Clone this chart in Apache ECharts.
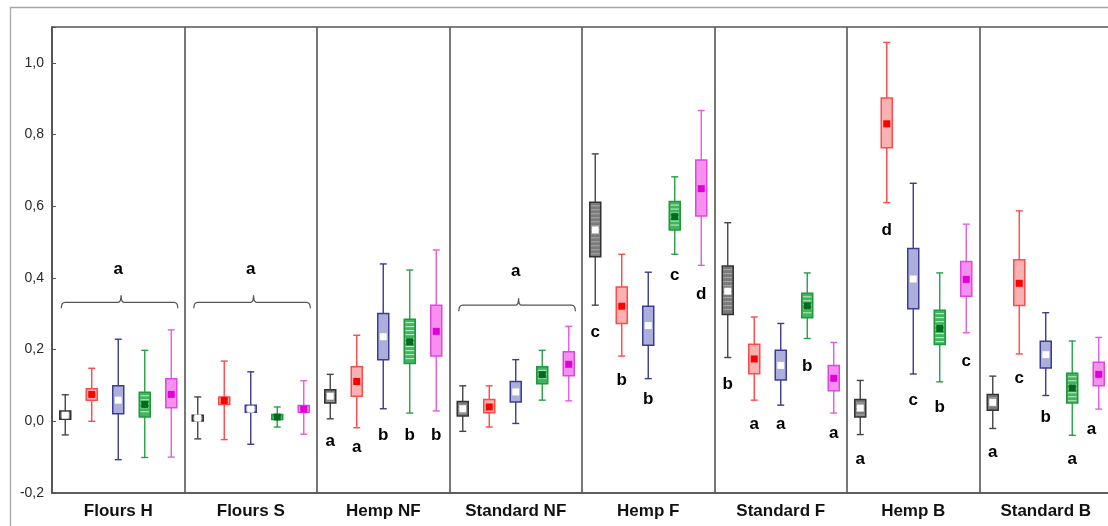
<!DOCTYPE html>
<html>
<head>
<meta charset="utf-8">
<script src="https://cdn.jsdelivr.net/npm/echarts@6/dist/echarts.min.js"></script>
<style>
  html, body { margin: 0; padding: 0; background: #fff; }
  #chart { width: 1108px; height: 526px; }
</style>
</head>
<body>
<div id="chart"></div>
<script>
// ---- data -------------------------------------------------------------
const groupNames = ['Flours H', 'Flours S', 'Hemp NF', 'Standard NF', 'Hemp F', 'Standard F', 'Hemp B', 'Standard B'];
const yTicks = [-0.2, 0.0, 0.2, 0.4, 0.6, 0.8, 1.0];

// each entry: [lower whisker, Q1, centre mark, Q3, upper whisker]
const blackBoxes = [
  [-0.038, 0.006, 0.017, 0.029, 0.074],
  [-0.049, 0.001, 0.009, 0.017, 0.068],
  [0.007, 0.051, 0.070, 0.088, 0.131],
  [-0.028, 0.015, 0.035, 0.055, 0.099],
  [0.324, 0.459, 0.534, 0.611, 0.746],
  [0.178, 0.298, 0.363, 0.433, 0.554],
  [-0.037, 0.012, 0.037, 0.061, 0.114],
  [-0.020, 0.031, 0.053, 0.075, 0.126]
];
const redBoxes = [
  [0.000, 0.059, 0.075, 0.091, 0.148],
  [-0.051, 0.047, 0.058, 0.068, 0.168],
  [-0.018, 0.070, 0.111, 0.152, 0.240],
  [-0.016, 0.024, 0.040, 0.061, 0.099],
  [0.182, 0.273, 0.321, 0.375, 0.466],
  [0.059, 0.133, 0.174, 0.215, 0.291],
  [0.610, 0.763, 0.830, 0.902, 1.057],
  [0.188, 0.323, 0.385, 0.451, 0.587]
];
const blueBoxes = [
  [-0.107, 0.021, 0.059, 0.099, 0.229],
  [-0.064, 0.025, 0.034, 0.045, 0.138],
  [0.035, 0.172, 0.236, 0.301, 0.439],
  [-0.006, 0.054, 0.082, 0.111, 0.172],
  [0.119, 0.212, 0.267, 0.321, 0.416],
  [0.045, 0.115, 0.156, 0.198, 0.273],
  [0.132, 0.314, 0.397, 0.482, 0.664],
  [0.072, 0.149, 0.186, 0.223, 0.303]
];
const greenBoxes = [
  [-0.101, 0.012, 0.047, 0.081, 0.198],
  [-0.016, 0.005, 0.012, 0.019, 0.040],
  [0.023, 0.161, 0.222, 0.285, 0.422],
  [0.059, 0.105, 0.130, 0.152, 0.198],
  [0.466, 0.534, 0.571, 0.613, 0.682],
  [0.231, 0.289, 0.322, 0.357, 0.414],
  [0.110, 0.214, 0.259, 0.310, 0.414],
  [-0.039, 0.051, 0.093, 0.134, 0.224]
];
const magentaBoxes = [
  [-0.100, 0.038, 0.075, 0.119, 0.255],
  [-0.036, 0.025, 0.034, 0.044, 0.113],
  [0.029, 0.182, 0.251, 0.324, 0.478],
  [0.057, 0.127, 0.159, 0.194, 0.265],
  [0.435, 0.573, 0.649, 0.729, 0.867],
  [0.023, 0.085, 0.120, 0.156, 0.220],
  [0.247, 0.349, 0.396, 0.446, 0.550],
  [0.034, 0.099, 0.131, 0.165, 0.234]
];

// significance letters per box and the y value they sit at
const blackLetters   = ['', '', 'a', '', 'c', 'b', 'a', 'a'];
const blackLetterY   = [null, null, -0.055, null, 0.249, 0.103, -0.105, -0.087];
const redLetters     = ['', '', 'a', '', 'b', 'a', 'd', 'c'];
const redLetterY     = [null, null, -0.072, null, 0.115, -0.009, 0.532, 0.119];
const blueLetters    = ['', '', 'b', '', 'b', 'a', 'c', 'b'];
const blueLetterY    = [null, null, -0.040, null, 0.061, -0.009, 0.059, 0.012];
const greenLetters   = ['', '', 'b', '', 'c', 'b', 'b', 'a'];
const greenLetterY   = [null, null, -0.040, null, 0.408, 0.154, 0.040, -0.107];
const magentaLetters = ['', '', 'b', '', 'd', 'a', 'c', 'a'];
const magentaLetterY = [null, null, -0.040, null, 0.355, -0.034, 0.166, -0.023];

// groups sharing one letter under a brace
const braceGroups = [0, 1, 3];
const braceLetters = ['a', 'a', 'a'];
const braceLevel = [0.332, 0.332, 0.324];
const braceLetterY = [0.425, 0.425, 0.419];

// ---- appearance -------------------------------------------------------
const PER_GROUP = 5;
const boxStyles = [
  { line: '#454545', edge: '#333333', fill: '#7b7b7b', stripe: '#a9a9a9', mark: '#ffffff', markEdge: null },
  { line: '#ff4848', edge: '#ff4a4a', fill: '#f8b2b2', stripe: null, mark: '#ff0000', markEdge: null },
  { line: '#3a3a92', edge: '#3c3c94', fill: '#acaedb', stripe: null, mark: '#ffffff', markEdge: null },
  { line: '#28a045', edge: '#1e9a3c', fill: '#41b55c', stripe: '#c6ead0', mark: '#006b1c', markEdge: null },
  { line: '#e45ae4', edge: '#e046e0', fill: '#f590ef', stripe: null, mark: '#e000d8', markEdge: null }
];
const allBoxes = [blackBoxes, redBoxes, blueBoxes, greenBoxes, magentaBoxes];
const allLetters = [blackLetters, redLetters, blueLetters, greenLetters, magentaLetters];
const allLetterY = [blackLetterY, redLetterY, blueLetterY, greenLetterY, magentaLetterY];
// small sideways nudge (in slot units) for letters that sit off-centre
const letterNudge = { '4-7': -0.27 };

function slotCentre(group, member) {
  return group * PER_GROUP + member + 0.5;
}

function renderBox(params, api) {
  const st = boxStyles[params.seriesIndex];
  const x = api.value(0);
  const pLow = api.coord([x, api.value(1)]);
  const cx = pLow[0];
  const yLow = pLow[1];
  const yQ1 = api.coord([x, api.value(2)])[1];
  const yMid = api.coord([x, api.value(3)])[1];
  const yQ3 = api.coord([x, api.value(4)])[1];
  const yHigh = api.coord([x, api.value(5)])[1];
  const bw = 11, cw = 7, ms = 7;
  const lineStyle = { stroke: st.line, lineWidth: 1.4 };
  const children = [
    { type: 'line', shape: { x1: cx, y1: yHigh, x2: cx, y2: yLow }, style: lineStyle },
    { type: 'line', shape: { x1: cx - cw / 2, y1: yHigh, x2: cx + cw / 2, y2: yHigh }, style: lineStyle },
    { type: 'line', shape: { x1: cx - cw / 2, y1: yLow, x2: cx + cw / 2, y2: yLow }, style: lineStyle },
    { type: 'rect', shape: { x: cx - bw / 2, y: yQ3, width: bw, height: yQ1 - yQ3 },
      style: { fill: st.fill, stroke: st.edge, lineWidth: 1.5 } }
  ];
  if (st.stripe) {
    for (let y = yQ3 + 3.5; y < yQ1 - 1.5; y += 4) {
      children.push({ type: 'line', shape: { x1: cx - bw / 2 + 1.2, y1: y, x2: cx + bw / 2 - 1.2, y2: y },
        style: { stroke: st.stripe, lineWidth: 1 } });
    }
  }
  children.push({ type: 'rect', shape: { x: cx - ms / 2, y: yMid - ms / 2, width: ms, height: ms },
    style: { fill: st.mark, stroke: st.markEdge, lineWidth: 1 } });
  return { type: 'group', children: children };
}

const letterItems = [];
allLetters.forEach((letters, s) => {
  letters.forEach((t, g) => {
    if (!t) return;
    const nudge = letterNudge[s + '-' + g] || 0;
    letterItems.push({ value: [slotCentre(g, s) + nudge, allLetterY[s][g]], text: t });
  });
});
braceGroups.forEach((g, i) => {
  letterItems.push({ value: [g * PER_GROUP + 2.5, braceLetterY[i]], text: braceLetters[i] });
});

function renderLetter(params, api) {
  const p = api.coord([api.value(0), api.value(1)]);
  return {
    type: 'text',
    x: p[0], y: p[1],
    style: {
      text: letterItems[params.dataIndex].text,
      fill: '#000', align: 'center', verticalAlign: 'middle',
      font: 'bold 17px "Liberation Sans", Arial, sans-serif'
    }
  };
}

function renderBrace(params, api) {
  const y = api.value(2);
  const a = api.coord([api.value(0), y]);
  const b = api.coord([api.value(1), y]);
  const c = (a[0] + b[0]) / 2 + 1.5;
  const yl = a[1];
  const path = 'M' + a[0] + ' ' + (yl + 6) +
    ' Q' + a[0] + ' ' + yl + ' ' + (a[0] + 4) + ' ' + yl +
    ' L' + (c - 3) + ' ' + yl +
    ' Q' + c + ' ' + yl + ' ' + c + ' ' + (yl - 7) +
    ' Q' + c + ' ' + yl + ' ' + (c + 3) + ' ' + yl +
    ' L' + (b[0] - 4) + ' ' + yl +
    ' Q' + b[0] + ' ' + yl + ' ' + b[0] + ' ' + (yl + 6);
  return { type: 'path', shape: { pathData: path }, style: { stroke: '#555', lineWidth: 1.3, fill: null } };
}

const boxSeries = allBoxes.map((boxes, s) => ({
  type: 'custom',
  name: 'set' + s,
  xAxisIndex: 0,
  yAxisIndex: 0,
  renderItem: renderBox,
  encode: { x: 0, y: [1, 2, 3, 4, 5] },
  data: boxes.map((b, g) => [slotCentre(g, s)].concat(b)),
  z: 3,
  silent: true
}));

const chart = echarts.init(document.getElementById('chart'), null, { renderer: 'canvas' });
chart.setOption({
  animation: false,
  backgroundColor: '#ffffff',
  graphic: [{
    type: 'rect',
    shape: { x: 10.5, y: 7.5, width: 1200, height: 600 },
    style: { fill: null, stroke: '#a6a6a6', lineWidth: 1.3 },
    silent: true
  }],
  grid: {
    left: 52, top: 27, width: 1060, height: 466,
    outerBoundsMode: 'none', containLabel: false,
    show: true, borderColor: '#555', borderWidth: 1.6, backgroundColor: 'transparent'
  },
  xAxis: [{
    type: 'value', min: 0, max: groupNames.length * PER_GROUP, interval: PER_GROUP,
    axisLine: { show: true, onZero: false, lineStyle: { color: '#555', width: 1.6 } },
    axisTick: { show: false },
    axisLabel: { show: false },
    splitLine: { show: true, lineStyle: { color: '#555', width: 1.6 } }
  }, {
    type: 'category', data: groupNames, position: 'bottom', boundaryGap: true,
    axisLine: { show: false, onZero: false }, axisTick: { show: false }, splitLine: { show: false },
    axisLabel: {
      interval: 0, margin: 10, color: '#111',
      fontFamily: '"Liberation Sans", Arial, sans-serif', fontWeight: 'bold', fontSize: 17
    }
  }],
  yAxis: {
    type: 'value', min: yTicks[0], max: 1.1, interval: 0.2,
    axisLine: { show: true, onZero: false, lineStyle: { color: '#555', width: 1.6 } },
    axisTick: { show: true, inside: true, length: 4, lineStyle: { color: '#555' } },
    splitLine: { show: false },
    axisLabel: {
      margin: 8, color: '#2a2a2a', fontSize: 14,
      fontFamily: '"Liberation Sans", Arial, sans-serif',
      formatter: function (v) {
        const hit = yTicks.find(t => Math.abs(t - v) < 1e-6);
        if (hit === undefined) return '';
        return hit.toFixed(1).replace('.', ',');
      }
    }
  },
  series: boxSeries.concat([{
    type: 'custom',
    name: 'braces',
    renderItem: renderBrace,
    encode: { x: [0, 1], y: 2 },
    data: braceGroups.map((g, i) => [g * PER_GROUP + 0.35, g * PER_GROUP + 4.75, braceLevel[i]]),
    z: 2, silent: true
  }, {
    type: 'custom',
    name: 'letters',
    renderItem: renderLetter,
    encode: { x: 0, y: 1 },
    data: letterItems.map(it => it.value),
    z: 4, silent: true
  }])
});
</script>
</body>
</html>
